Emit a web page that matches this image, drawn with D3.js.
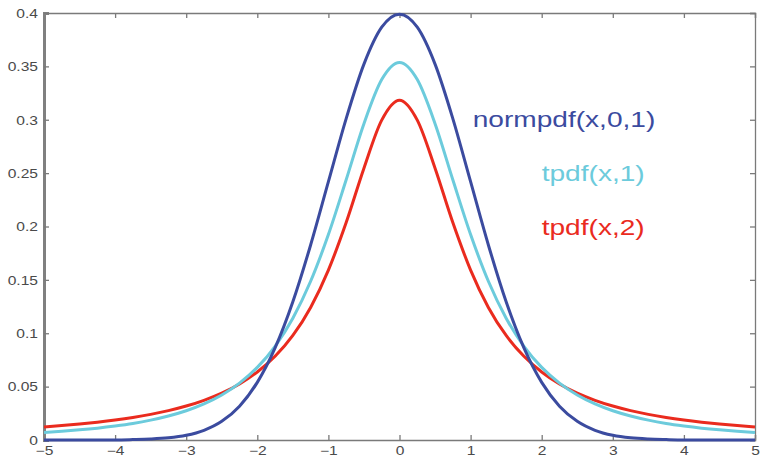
<!DOCTYPE html>
<html>
<head>
<meta charset="utf-8">
<script src="https://cdn.jsdelivr.net/npm/d3@7"></script>
<style>
  html, body { margin: 0; padding: 0; background: #fff; }
  svg { display: block; }
</style>
</head>
<body>
<svg id="chart" width="760" height="458"></svg>
<script>
// Sample points along x
const xs = [-5, -4.75, -4.5, -4.25, -4, -3.75, -3.5, -3.25, -3, -2.75, -2.5, -2.25, -2, -1.75, -1.5, -1.25, -1, -0.75, -0.5, -0.25,
  0, 0.25, 0.5, 0.75, 1, 1.25, 1.5, 1.75, 2, 2.25, 2.5, 2.75, 3, 3.25, 3.5, 3.75, 4, 4.25, 4.5, 4.75, 5];

// normpdf(x,0,1)
const normVals = [0.0000, 0.0000, 0.0000, 0.0001, 0.0001, 0.0004, 0.0009, 0.0020, 0.0044, 0.0091, 0.0175, 0.0317, 0.0540, 0.0863, 0.1295, 0.1827, 0.2420, 0.3011, 0.3521, 0.3867,
  0.3989, 0.3867, 0.3521, 0.3011, 0.2420, 0.1827, 0.1295, 0.0863, 0.0540, 0.0317, 0.0175, 0.0091, 0.0044, 0.0020, 0.0009, 0.0004, 0.0001, 0.0001, 0.0000, 0.0000, 0.0000];

// tpdf(x,1) curve (cyan)
const tCyanVals = [0.0071, 0.0082, 0.0095, 0.0111, 0.0131, 0.0155, 0.0186, 0.0225, 0.0274, 0.0338, 0.0422, 0.0533, 0.0680, 0.0878, 0.1141, 0.1487, 0.1925, 0.2438, 0.2963, 0.3376,
  0.3536, 0.3376, 0.2963, 0.2438, 0.1925, 0.1487, 0.1141, 0.0878, 0.0680, 0.0533, 0.0422, 0.0338, 0.0274, 0.0225, 0.0186, 0.0155, 0.0131, 0.0111, 0.0095, 0.0082, 0.0071];

// tpdf(x,2) curve (red)
const tRedVals = [0.0122, 0.0135, 0.0150, 0.0167, 0.0187, 0.0211, 0.0240, 0.0275, 0.0318, 0.0372, 0.0439, 0.0525, 0.0637, 0.0784, 0.0979, 0.1242, 0.1592, 0.2037, 0.2546, 0.2996,
  0.3183, 0.2996, 0.2546, 0.2037, 0.1592, 0.1242, 0.0979, 0.0784, 0.0637, 0.0525, 0.0439, 0.0372, 0.0318, 0.0275, 0.0240, 0.0211, 0.0187, 0.0167, 0.0150, 0.0135, 0.0122];

const xTicks = [-5, -4, -3, -2, -1, 0, 1, 2, 3, 4, 5];
const yTicks = [0, 0.05, 0.1, 0.15, 0.2, 0.25, 0.3, 0.35, 0.4];

const seriesNames = ["normpdf(x,0,1)", "tpdf(x,1)", "tpdf(x,2)"];
const seriesColors = ["#3b4b9f", "#6ccbdc", "#ea2b1e"];

const svg = d3.select("#chart");
const margin = { left: 44, right: 5, top: 13, bottom: 18 };
const W = 760, H = 458;
const stretch = 1.3; // text is drawn horizontally widened

const x = d3.scaleLinear().domain([-5, 5]).range([margin.left, W - margin.right]);
const y = d3.scaleLinear().domain([0, 0.4]).range([H - margin.bottom, margin.top]);

const axisColor = "#7a7a7a";
const labelColor = "#4a4a4a";

// helper: text stretched horizontally around its anchor point
function stretchedText(g, px, py, str, opts) {
  return g.append("text")
    .attr("transform", `translate(${px},${py}) scale(${opts.sx || stretch},1)`)
    .attr("text-anchor", opts.anchor || "start")
    .attr("dominant-baseline", opts.baseline || "auto")
    .attr("font-family", "'Liberation Sans', Arial, Helvetica, sans-serif")
    .attr("font-size", opts.size)
    .attr("fill", opts.color)
    .text(str);
}

const fmtTick = d => d3.format("")(d).replace("-", "\u2212");

// Bottom axis
const xAxis = d3.axisBottom(x).tickValues(xTicks).tickSize(-5).tickPadding(0).tickFormat(fmtTick);
const gx = svg.append("g").attr("transform", `translate(0,${y(0)})`).call(xAxis);
gx.select(".domain").attr("stroke", axisColor).attr("stroke-width", 1.3);
gx.selectAll(".tick line").attr("stroke", axisColor).attr("stroke-width", 1.3);
gx.selectAll(".tick text").remove();
gx.selectAll(".tick").each(function(d) {
  stretchedText(d3.select(this), 0, 14.5, fmtTick(d),
    { anchor: "middle", size: 12, color: labelColor });
});

// Top edge with ticks
const xTop = d3.axisTop(x).tickValues(xTicks).tickSize(-5).tickFormat("");
const gxt = svg.append("g").attr("transform", `translate(0,${y(0.4)})`).call(xTop);
gxt.select(".domain").attr("stroke", axisColor).attr("stroke-width", 1.3);
gxt.selectAll(".tick line").attr("stroke", axisColor).attr("stroke-width", 1.3);

// Right edge with ticks
const yRight = d3.axisRight(y).tickValues(yTicks).tickSize(-5).tickFormat("");
const gyr = svg.append("g").attr("transform", `translate(${x(5)},0)`).call(yRight);
gyr.select(".domain").attr("stroke", axisColor).attr("stroke-width", 1.3);
gyr.selectAll(".tick line").attr("stroke", axisColor).attr("stroke-width", 1.3);

// Left axis
const yAxis = d3.axisLeft(y).tickValues(yTicks).tickSize(-5).tickFormat("");
const gy = svg.append("g").attr("transform", `translate(${x(-5)},0)`).call(yAxis);
gy.select(".domain").attr("stroke", "#808080").attr("stroke-width", 3);
gy.selectAll(".tick line").attr("stroke", axisColor).attr("stroke-width", 1.3);
gy.selectAll(".tick").each(function(d) {
  stretchedText(d3.select(this), -6, 0, d3.format("")(d),
    { anchor: "end", baseline: "central", size: 12, color: labelColor });
});

// Curves
const line = d3.line()
  .x((d, i) => x(xs[i]))
  .y(d => y(d))
  .curve(d3.curveMonotoneX);

const curves = [
  { vals: tRedVals, color: seriesColors[2] },
  { vals: tCyanVals, color: seriesColors[1] },
  { vals: normVals, color: seriesColors[0] }
];
svg.append("g").selectAll("path").data(curves).join("path")
  .attr("d", d => line(d.vals))
  .attr("fill", "none")
  .attr("stroke", d => d.color)
  .attr("stroke-width", 3)
  .attr("stroke-linejoin", "round");

// Curve labels
const labelPos = [
  { x: 1.03, y: 0.2932 },
  { x: 2.0, y: 0.2426 },
  { x: 2.0, y: 0.192 }
];
const gl = svg.append("g");
seriesNames.forEach((name, i) => {
  stretchedText(gl, x(labelPos[i].x), y(labelPos[i].y), name,
    { anchor: "start", size: 21.6, color: seriesColors[i] });
});
</script>
</body>
</html>
